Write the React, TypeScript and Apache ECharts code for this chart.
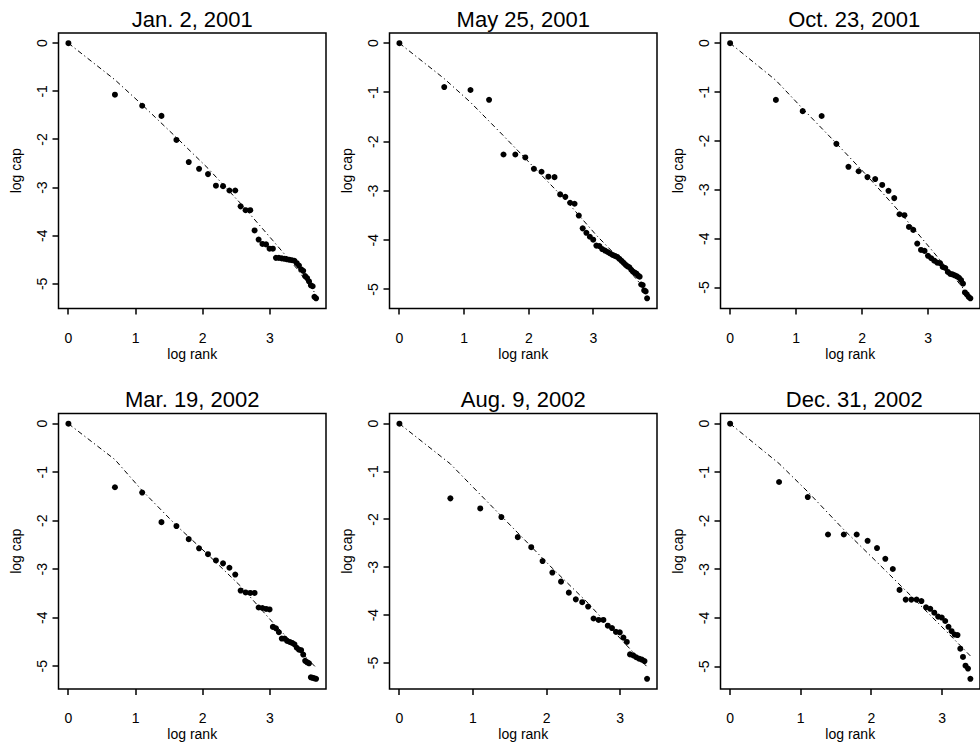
import React, { useEffect, useRef } from "react";
import * as echarts from "echarts";

// log of rank 1..46
const logRank = [
  0, 0.693, 1.099, 1.386, 1.609, 1.792, 1.946, 2.079, 2.197, 2.303, 2.398, 2.485, 2.565, 2.639, 2.708, 2.773,
  2.833, 2.89, 2.944, 2.996, 3.045, 3.091, 3.135, 3.178, 3.219, 3.258, 3.296, 3.332, 3.367, 3.401, 3.434, 3.466,
  3.497, 3.526, 3.555, 3.584, 3.611, 3.638, 3.664, 3.689, 3.714, 3.738, 3.761, 3.784, 3.807, 3.829,
];

const panelTitles = ["Jan. 2, 2001", "May 25, 2001", "Oct. 23, 2001", "Mar. 19, 2002", "Aug. 9, 2002", "Dec. 31, 2002"];

// log cap of each rank
const capJan2001 = [
  0, -1.07, -1.3, -1.51, -2.01, -2.47, -2.61, -2.72, -2.96, -2.97, -3.06, -3.06, -3.39, -3.47, -3.47, -3.89, -4.08,
  -4.17, -4.18, -4.27, -4.27, -4.46, -4.46, -4.47, -4.48, -4.49, -4.5, -4.51, -4.52, -4.57, -4.62, -4.7, -4.73, -4.84,
  -4.88, -4.95, -5.03, -5.05, -5.27, -5.3,
];
const capMay2001 = [
  0, -0.89, -0.95, -1.15, -2.26, -2.26, -2.32, -2.55, -2.61, -2.71, -2.72, -3.07, -3.12, -3.24, -3.26, -3.5, -3.76,
  -3.85, -3.93, -3.99, -4.11, -4.12, -4.18, -4.21, -4.24, -4.27, -4.3, -4.32, -4.34, -4.38, -4.42, -4.46, -4.5, -4.53,
  -4.55, -4.6, -4.64, -4.66, -4.68, -4.72, -4.74, -4.9, -4.91, -5.02, -5.04, -5.18,
];
const capOct2001 = [
  0, -1.16, -1.39, -1.49, -2.06, -2.53, -2.62, -2.74, -2.78, -2.9, -3.02, -3.17, -3.5, -3.52, -3.76, -3.82, -4.1,
  -4.23, -4.25, -4.35, -4.4, -4.45, -4.49, -4.5, -4.58, -4.6, -4.68, -4.72, -4.73, -4.75, -4.77, -4.8, -4.85, -4.92,
  -5.1, -5.14, -5.19, -5.22,
];
const capMar2002 = [
  0, -1.31, -1.42, -2.03, -2.11, -2.38, -2.57, -2.69, -2.82, -2.88, -2.97, -3.11, -3.44, -3.48, -3.49, -3.49, -3.79,
  -3.8, -3.82, -3.83, -4.19, -4.22, -4.3, -4.43, -4.43, -4.48, -4.5, -4.52, -4.55, -4.62, -4.66, -4.67, -4.76, -4.89,
  -4.92, -4.94, -5.23, -5.24, -5.25, -5.26,
];
const capAug2002 = [
  0, -1.56, -1.77, -1.95, -2.37, -2.58, -2.87, -3.11, -3.3, -3.53, -3.67, -3.73, -3.82, -4.07, -4.1, -4.1, -4.22,
  -4.27, -4.35, -4.36, -4.47, -4.56, -4.82, -4.84, -4.88, -4.91, -4.93, -4.96, -5.33,
];
const capDec2002 = [
  0, -1.2, -1.51, -2.28, -2.28, -2.28, -2.41, -2.56, -2.78, -2.99, -3.42, -3.62, -3.62, -3.62, -3.65, -3.78, -3.81,
  -3.89, -3.97, -3.99, -4.06, -4.18, -4.27, -4.34, -4.35, -4.63, -4.8, -4.98, -5.04, -5.25,
];

// fitted (dash-dot) curves
const fitX = [0, 0.693, 1.099, 1.609, 2.079, 2.565, 3.045, 3.401];
const fitYJan2001 = [0, -0.76, -1.28, -1.96, -2.6, -3.33, -4.1, -4.68];
const fitYMay2001 = [0, -0.72, -1.2, -1.88, -2.52, -3.18, -3.9, -4.38];
const fitYOct2001 = [0, -0.76, -1.34, -2.05, -2.72, -3.45, -4.22, -4.8];
const fitYMar2002 = [0, -0.74, -1.38, -2.1, -2.7, -3.35, -4.1, -4.62];
const fitYAug2002 = [0, -0.84, -1.48, -2.28, -3.02, -3.75, -4.56, -5.08];
const fitYDec2002 = [0, -0.82, -1.4, -2.18, -2.85, -3.55, -4.25, -4.78];
// end point of each fitted curve
const fitEndX = [3.689, 3.829, 3.638, 3.689, 3.367, 3.401];
const fitEndY = [-5.22, -5.05, -5.2, -5.03, -5.08, -4.78];

const xTicks = [0, 1, 2, 3];
const yTicks = [-5, -4, -3, -2, -1, 0];

const FONT = "'Liberation Sans', Arial, Helvetica, sans-serif";
const TICK_LEN = 6;

export default function App() {
  const ref = useRef<HTMLDivElement>(null);

  useEffect(() => {
    if (!ref.current) return;
    const chart = echarts.init(ref.current, null, { renderer: "svg" });

    const caps = [capJan2001, capMay2001, capOct2001, capMar2002, capAug2002, capDec2002];
    const fits = [fitYJan2001, fitYMay2001, fitYOct2001, fitYMar2002, fitYAug2002, fitYDec2002];

    const gridW = 267.5;
    const gridH = 275.5;
    const colLeft = [58.5, 389.5, 720.5];
    const rowTop = [33, 413.5];
    const titleTop = [8, 388.5];

    const grids: any[] = [];
    const xAxes: any[] = [];
    const yAxes: any[] = [];
    const series: any[] = [];
    const titles: any[] = [];

    caps.forEach((cap, i) => {
      const c = i % 3;
      const r = Math.floor(i / 3);
      const xs = logRank.slice(0, cap.length);
      const xMin = Math.min(...xs);
      const xMax = Math.max(...xs);
      const yMin = Math.min(...cap);
      const yMax = Math.max(...cap);
      const dx = (xMax - xMin) * 0.04;
      const dy = (yMax - yMin) * 0.04;
      const xLo = xMin - dx;
      const yLo = yMin - dy;

      grids.push({
        left: colLeft[c],
        top: rowTop[r],
        width: gridW,
        height: gridH,
        show: true,
        borderColor: "#000",
        borderWidth: 1.5,
        backgroundColor: "transparent",
        containLabel: false,
      });

      xAxes.push({
        gridIndex: i,
        type: "value",
        position: "bottom",
        min: xLo,
        max: xMax + dx,
        axisLine: { show: false, onZero: false },
        axisTick: { show: false },
        axisLabel: {
          show: true,
          customValues: xTicks,
          color: "#000",
          fontSize: 14,
          fontFamily: FONT,
          margin: 22,
        },
        splitLine: { show: false },
        name: "log rank",
        nameLocation: "middle",
        nameGap: 38,
        nameTextStyle: { color: "#000", fontSize: 14, fontFamily: FONT },
      });

      yAxes.push({
        gridIndex: i,
        type: "value",
        position: "left",
        min: yLo,
        max: yMax + dy,
        axisLine: { show: false, onZero: false },
        axisTick: { show: false },
        axisLabel: {
          show: true,
          customValues: yTicks,
          rotate: 90,
          color: "#000",
          fontSize: 14,
          fontFamily: FONT,
          margin: 10,
        },
        splitLine: { show: false },
        name: "log cap",
        nameLocation: "middle",
        nameGap: 36,
        nameTextStyle: { color: "#000", fontSize: 14, fontFamily: FONT },
      });

      // outward tick marks, placed through the panel's own axis scales
      series.push({
        type: "custom",
        coordinateSystem: "cartesian2d",
        xAxisIndex: i,
        yAxisIndex: i,
        clip: false,
        silent: true,
        z: 5,
        data: xTicks.map((v) => [v, yLo]),
        renderItem: (_p: any, api: any) => {
          const pt = api.coord([api.value(0), api.value(1)]);
          const px = Math.round(pt[0]);
          return {
            type: "rect",
            shape: { x: px - 0.75, y: pt[1], width: 1.5, height: TICK_LEN },
            style: { fill: "#000" },
          };
        },
      });
      series.push({
        type: "custom",
        coordinateSystem: "cartesian2d",
        xAxisIndex: i,
        yAxisIndex: i,
        clip: false,
        silent: true,
        z: 5,
        data: yTicks.map((v) => [xLo, v]),
        renderItem: (_p: any, api: any) => {
          const pt = api.coord([api.value(0), api.value(1)]);
          const py = Math.round(pt[1]);
          return {
            type: "rect",
            shape: { x: pt[0] - TICK_LEN, y: py - 0.75, width: TICK_LEN, height: 1.5 },
            style: { fill: "#000" },
          };
        },
      });

      const fitData = fitX
        .map((x, k) => [x, fits[i][k]])
        .filter((p) => p[0] < fitEndX[i]);
      fitData.push([fitEndX[i], fitEndY[i]]);

      series.push({
        type: "line",
        xAxisIndex: i,
        yAxisIndex: i,
        data: fitData,
        showSymbol: false,
        symbol: "none",
        silent: true,
        z: 1,
        lineStyle: { color: "#000", width: 1, type: [5, 3, 1.2, 3], opacity: 1 },
      });

      series.push({
        type: "scatter",
        xAxisIndex: i,
        yAxisIndex: i,
        data: xs.map((x, k) => [x, cap[k]]),
        symbol: "circle",
        symbolSize: 6,
        silent: true,
        z: 2,
        itemStyle: { color: "#000", opacity: 1 },
      });

      titles.push({
        text: panelTitles[i],
        left: colLeft[c] + gridW / 2,
        top: titleTop[r],
        textAlign: "center",
        textVerticalAlign: "top",
        padding: 0,
        textStyle: { color: "#000", fontSize: 22, fontWeight: "normal", fontFamily: FONT },
      });
    });

    chart.setOption({
      animation: false,
      backgroundColor: "#fff",
      title: titles,
      grid: grids,
      xAxis: xAxes,
      yAxis: yAxes,
      series,
    });

    return () => chart.dispose();
  }, []);

  return (
    <div
      ref={ref}
      style={{ position: "fixed", left: 0, top: 0, width: 980, height: 744, background: "#fff" }}
    />
  );
}
